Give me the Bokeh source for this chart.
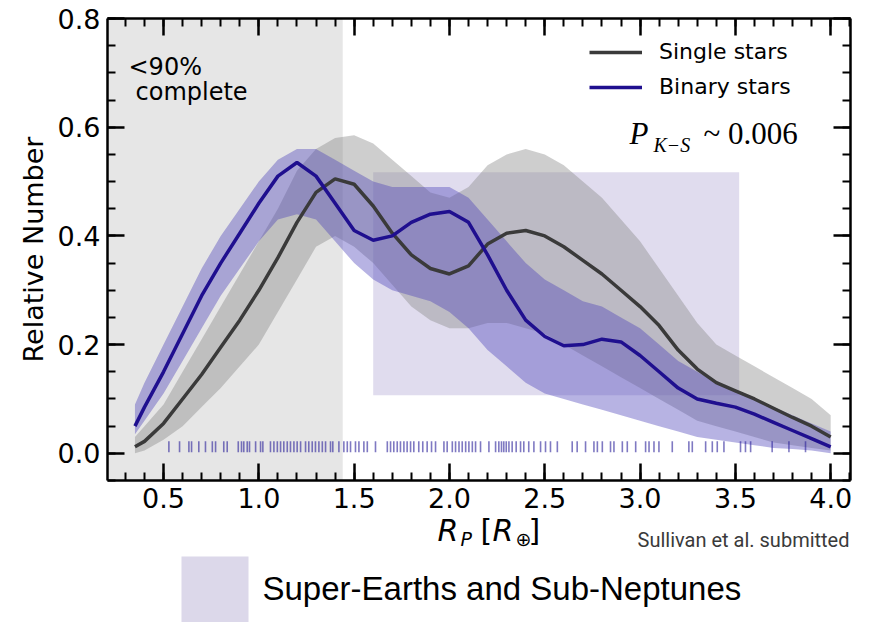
from bokeh.plotting import figure
from bokeh.layouts import column
from bokeh.models import (Range1d, LinearAxis, SingleIntervalTicker, PrintfTickFormatter,
                          BoxAnnotation, Label, Legend, LegendItem)
from bokeh.embed import file_html
from bokeh.resources import INLINE

# ---------------- data ----------------
radius = [0.35, 0.40, 0.50, 0.60, 0.70, 0.80, 0.90, 1.00, 1.10, 1.20, 1.30, 1.40, 1.50,
          1.60, 1.70, 1.80, 1.90, 2.00, 2.10, 2.20, 2.30, 2.40, 2.50, 2.60, 2.70, 2.80,
          2.90, 3.00, 3.10, 3.20, 3.30, 3.40, 3.50, 3.60, 3.70, 3.80, 3.90, 4.00]

single_mean = [0.012, 0.022, 0.055, 0.100, 0.145, 0.195, 0.245, 0.300, 0.360, 0.425, 0.480,
               0.505, 0.495, 0.455, 0.405, 0.365, 0.340, 0.330, 0.345, 0.385, 0.405, 0.410,
               0.400, 0.380, 0.355, 0.330, 0.300, 0.270, 0.235, 0.190, 0.155, 0.130, 0.115,
               0.100, 0.083, 0.066, 0.050, 0.030]
single_hi = [0.030, 0.050, 0.090, 0.150, 0.210, 0.270, 0.330, 0.390, 0.450, 0.520, 0.560,
             0.580, 0.585, 0.570, 0.540, 0.510, 0.480, 0.470, 0.490, 0.530, 0.550, 0.560,
             0.550, 0.530, 0.500, 0.470, 0.430, 0.390, 0.340, 0.290, 0.240, 0.200, 0.180,
             0.160, 0.140, 0.120, 0.100, 0.070]
single_lo = [0.000, 0.005, 0.025, 0.050, 0.085, 0.120, 0.160, 0.200, 0.260, 0.320, 0.380,
             0.400, 0.380, 0.350, 0.310, 0.270, 0.245, 0.230, 0.230, 0.240, 0.240, 0.230,
             0.220, 0.200, 0.180, 0.160, 0.140, 0.120, 0.100, 0.080, 0.060, 0.050, 0.040,
             0.030, 0.020, 0.015, 0.010, 0.005]

binary_mean = [0.050, 0.085, 0.150, 0.220, 0.290, 0.350, 0.405, 0.460, 0.510, 0.535, 0.510,
               0.460, 0.410, 0.392, 0.400, 0.425, 0.440, 0.445, 0.425, 0.365, 0.300, 0.245,
               0.215, 0.198, 0.200, 0.210, 0.205, 0.180, 0.150, 0.120, 0.100, 0.092, 0.085,
               0.072, 0.057, 0.042, 0.027, 0.012]
binary_hi = [0.090, 0.130, 0.200, 0.270, 0.340, 0.400, 0.450, 0.500, 0.540, 0.560, 0.560,
             0.540, 0.520, 0.500, 0.490, 0.490, 0.490, 0.490, 0.470, 0.430, 0.390, 0.350,
             0.320, 0.300, 0.280, 0.270, 0.250, 0.230, 0.200, 0.170, 0.150, 0.130, 0.115,
             0.100, 0.085, 0.070, 0.055, 0.040]
binary_lo = [0.035, 0.060, 0.110, 0.170, 0.230, 0.290, 0.340, 0.390, 0.430, 0.440, 0.430,
             0.390, 0.350, 0.320, 0.300, 0.290, 0.280, 0.260, 0.230, 0.190, 0.160, 0.130,
             0.110, 0.100, 0.090, 0.080, 0.070, 0.060, 0.050, 0.040, 0.030, 0.025, 0.020,
             0.015, 0.010, 0.008, 0.005, 0.000]

# planet radii of the binary-star sample (rug)
binary_radii = [0.528, 0.584, 0.633, 0.647, 0.685, 0.720, 0.756, 0.773, 0.816, 0.834, 0.892,
                0.909, 0.921, 0.939, 0.951, 0.983, 1.009, 1.021, 1.061, 1.079, 1.097, 1.114,
                1.131, 1.149, 1.166, 1.184, 1.201, 1.219, 1.245, 1.262, 1.280, 1.297, 1.315,
                1.333, 1.350, 1.376, 1.388, 1.420, 1.446, 1.464, 1.481, 1.507, 1.525, 1.551,
                1.569, 1.612, 1.674, 1.691, 1.708, 1.726, 1.743, 1.761, 1.778, 1.796, 1.813,
                1.839, 1.860, 1.883, 1.906, 1.927, 1.971, 1.988, 2.015, 2.032, 2.050, 2.067,
                2.085, 2.102, 2.120, 2.137, 2.163, 2.207, 2.242, 2.259, 2.273, 2.285, 2.298,
                2.312, 2.329, 2.350, 2.373, 2.390, 2.416, 2.443, 2.478, 2.504, 2.530, 2.566,
                2.644, 2.670, 2.714, 2.758, 2.776, 2.802, 2.845, 2.863, 2.907, 2.933, 2.977,
                3.029, 3.047, 3.073, 3.099, 3.169, 3.256, 3.274, 3.344, 3.379, 3.405, 3.440,
                3.527, 3.553, 3.580, 3.693, 3.781, 3.868]
rug_bottom, rug_top = 0.002, 0.022

incomplete_limit = 1.44                      # <90% completeness below this radius
super_box = dict(left=1.60, right=3.52, bottom=0.107, top=0.517)

X0, X1 = 0.206, 4.104
Y0, Y1 = -0.05, 0.80

# ---------------- layout sizes ----------------
W = 871
H1 = 522
OVERLAP = 40                      # bottom strip is laid over the tick-label band
P2_TOP = H1 - OVERLAP
H2 = 622 - P2_TOP
FL, FR, FT, FB = 107, 850, 18, 480

font = "DejaVu Sans"
serif = "Liberation Serif"

p = figure(width=W, height=H1, output_backend="svg", toolbar_location=None,
           x_range=Range1d(X0, X1), y_range=Range1d(Y0, Y1),
           min_border_left=FL, min_border_right=W - FR, min_border_top=FT,
           min_border_bottom=H1 - FB, background_fill_color="white",
           border_fill_color="white", outline_line_color=None)
p.grid.visible = False
bottom_ax = p.below[0]
left_ax = p.left[0]

# shaded regions
p.add_layout(BoxAnnotation(right=incomplete_limit, fill_color="#e6e6e6", fill_alpha=1.0,
                           line_color=None, level="underlay"))
p.quad(left=[super_box["left"]], right=[super_box["right"]],
       bottom=[super_box["bottom"]], top=[super_box["top"]],
       fill_color="#e0dcee", fill_alpha=1.0, line_color=None)

# bootstrap spread
p.varea(x=radius, y1=single_lo, y2=single_hi, fill_color="#8a8a8a", fill_alpha=0.42)
p.varea(x=radius, y1=binary_lo, y2=binary_hi, fill_color="#4b40b8", fill_alpha=0.40)

# rug
p.segment(x0=binary_radii, y0=[rug_bottom] * len(binary_radii), x1=binary_radii,
          y1=[rug_top] * len(binary_radii), line_color="#2a1f9a", line_alpha=0.6,
          line_width=1.6)

# mean curves
r_single = p.line(radius, single_mean, line_color="#3a3a3a", line_width=3.5)
r_binary = p.line(radius, binary_mean, line_color="#1f0f8f", line_width=3.5)

# ---------------- axes ----------------
x_ticks = dict(interval=0.5, num_minor_ticks=5)
y_ticks = dict(interval=0.2, num_minor_ticks=4)
bottom_ax.ticker = SingleIntervalTicker(**x_ticks)
left_ax.ticker = SingleIntervalTicker(**y_ticks)
bottom_ax.formatter = PrintfTickFormatter(format="%.1f")
left_ax.formatter = PrintfTickFormatter(format="%.1f")

top_ax = LinearAxis(ticker=SingleIntervalTicker(**x_ticks))
right_ax = LinearAxis(ticker=SingleIntervalTicker(**y_ticks))
p.add_layout(top_ax, "above")
p.add_layout(right_ax, "right")

for ax in [bottom_ax, left_ax, top_ax, right_ax]:
    ax.axis_line_width = 2.5
    ax.axis_line_color = "black"
    ax.major_tick_in = 17
    ax.major_tick_out = 0
    ax.minor_tick_in = 8
    ax.minor_tick_out = 0
    ax.major_tick_line_width = 2.5
    ax.minor_tick_line_width = 2
    ax.major_tick_line_color = "black"
    ax.minor_tick_line_color = "black"
    ax.major_label_text_font = font
    ax.major_label_text_font_size = "27px"
    ax.major_label_text_color = "black"

for ax in [top_ax, right_ax]:
    ax.major_label_text_color = None
    ax.major_label_text_font_size = "1px"
    ax.major_label_standoff = 0

bottom_ax.major_label_standoff = 7
left_ax.major_label_standoff = 7
left_ax.axis_label = "Relative Number"
left_ax.axis_label_text_font = font
left_ax.axis_label_text_font_size = "27px"
left_ax.axis_label_text_font_style = "normal"
left_ax.axis_label_text_color = "black"
left_ax.axis_label_standoff = 6


# ---------------- texts (pixel targets -> data) ----------------
def to_x(sx):
    return X0 + (sx - FL) * (X1 - X0) / (FR - FL)


def to_y(sy):
    return Y1 - (sy - FT) * (Y1 - Y0) / (FB - FT)


def add_label(fig, sx, sy, text, size, fnt=font, style="normal", color="black",
              align="left", main=True):
    # sy is the wanted baseline in page pixels; lift by a fraction of the size
    lift = 0.28 * size
    y = to_y(sy - lift) if main else (sy - lift - P2_TOP)
    x = to_x(sx) if main else sx
    fig.add_layout(Label(x=x, y=y, text=text, text_font=fnt, text_font_size=f"{size}px",
                         text_font_style=style, text_color=color, text_align=align,
                         text_baseline="alphabetic"))


add_label(p, 128, 73, "<90%", 24)
add_label(p, 135, 98, "complete", 24)

# P_{K-S} ~ 0.006
add_label(p, 629, 142, "P", 31, fnt=serif, style="italic")
add_label(p, 653, 150, "K\u2212S", 20, fnt=serif, style="italic")
add_label(p, 703, 142, "~ 0.006", 31, fnt=serif)

# ---------------- legend ----------------
leg = Legend(items=[LegendItem(label="Single stars", renderers=[r_single]),
                    LegendItem(label="Binary stars", renderers=[r_binary])],
             location=(482, 381), glyph_width=53, glyph_height=20, label_standoff=17,
             spacing=10, padding=0, margin=0, border_line_color=None,
             background_fill_alpha=0.0, label_text_font=font,
             label_text_font_size="22px", label_text_color="black")
p.add_layout(leg)

# ---------------- bottom strip: axis title, credit and region key ----------------
# transparent, laid over the lower edge of the main plot; data units = page pixels
p2 = figure(width=W, height=H2, output_backend="svg", toolbar_location=None,
            x_range=Range1d(FL, FR), y_range=Range1d(H2, 0),
            x_axis_type=None, y_axis_type=None, min_border_left=FL,
            min_border_right=W - FR, min_border_top=0, min_border_bottom=0,
            outline_line_color=None, background_fill_alpha=0.0,
            border_fill_alpha=0.0, margin=(-OVERLAP, 0, 0, 0))
p2.grid.visible = False

# x-axis title  R_P [R_⊕]
add_label(p2, 437, 538, "R", 30, style="italic", main=False)
add_label(p2, 460, 544, "P", 19, style="italic", main=False)
add_label(p2, 480, 538, "[", 30, main=False)
add_label(p2, 492, 538, "R", 30, style="italic", main=False)
add_label(p2, 515, 544, "\u2295", 19, main=False)
add_label(p2, 528, 538, "]", 30, main=False)

add_label(p2, 849, 545, "Sullivan et al. submitted", 20, fnt="Roboto",
          color="#3a3a3a", align="right", main=False)

# key for the Super-Earth / Sub-Neptune region
key_top = 556 - P2_TOP
p2.quad(left=[181], right=[248], top=[key_top], bottom=[H2], fill_color="#dcd8ea",
        line_color=None)
add_label(p2, 262, 597, "Super-Earths and Sub-Neptunes", 33, fnt="Liberation Sans",
          main=False)

layout = column(p, p2, spacing=0)
open("out.html", "w").write(file_html(layout, INLINE, title="Planet radius distribution"))
